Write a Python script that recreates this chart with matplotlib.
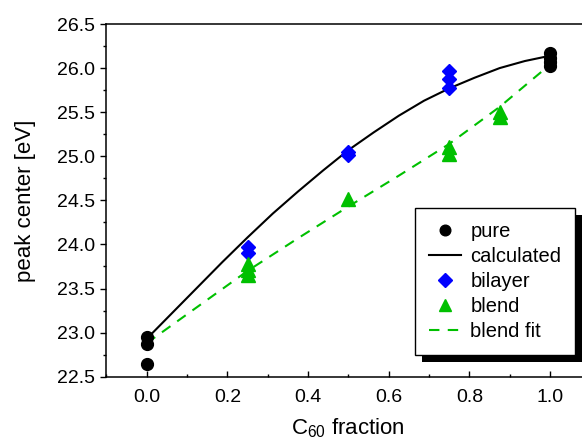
import matplotlib
matplotlib.use('Agg')
import matplotlib.pyplot as plt
from matplotlib.patches import Rectangle
from matplotlib.transforms import IdentityTransform
from matplotlib.ticker import MultipleLocator

plt.rcParams['font.family'] = ['Liberation Sans', 'DejaVu Sans']
plt.rcParams['mathtext.default'] = 'regular'

# pure materials (x = 0 and x = 1)
pure_x = [0.0, 0.0, 0.0, 1.0, 1.0, 1.0, 1.0]
pure_y = [22.95, 22.87, 22.64, 26.17, 26.12, 26.07, 26.02]

# calculated curve
calc_x = [0, 0.0625, 0.125, 0.1875, 0.25, 0.3125, 0.375, 0.4375, 0.5,
          0.5625, 0.625, 0.6875, 0.75, 0.8125, 0.875, 0.9375, 1.0]
calc_y = [22.93, 23.22, 23.51, 23.80, 24.08, 24.35, 24.60, 24.84, 25.07,
          25.27, 25.46, 25.63, 25.77, 25.89, 26.00, 26.08, 26.14]

# bilayer samples
bil_x = [0.25, 0.25, 0.5, 0.5, 0.75, 0.75, 0.75]
bil_y = [23.97, 23.90, 25.05, 25.01, 25.97, 25.88, 25.77]

# blend samples
bl_x = [0.25, 0.25, 0.25, 0.5, 0.75, 0.75, 0.875, 0.875]
bl_y = [23.78, 23.71, 23.65, 24.51, 25.10, 25.03, 25.50, 25.44]

# blend fit
fit_x = [0, 0.125, 0.25, 0.375, 0.5, 0.625, 0.75, 0.875, 1.0]
fit_y = [22.88, 23.29, 23.70, 24.07, 24.43, 24.78, 25.14, 25.56, 26.04]

green = '#00C000'

fig = plt.figure(figsize=(5.82, 4.43), dpi=100)
ax = fig.add_axes([106.4 / 582, 66.3 / 443, 484 / 582, 352.7 / 443])

l_calc, = ax.plot(calc_x, calc_y, color='black', linewidth=1.5, label='calculated', zorder=2)
l_fit, = ax.plot(fit_x, fit_y, color=green, linewidth=1.5, linestyle=(0, (5, 4)),
                 label='blend fit', zorder=2)
l_bil, = ax.plot(bil_x, bil_y, linestyle='none', marker='D', markersize=7.5,
                 color='#0000FF', label='bilayer', zorder=3)
l_bl, = ax.plot(bl_x, bl_y, linestyle='none', marker='^', markersize=9.5,
                color=green, label='blend', zorder=3)
l_pure, = ax.plot(pure_x, pure_y, linestyle='none', marker='o', markersize=8.5,
                  color='black', label='pure', zorder=4)

ax.set_xlim(-0.1, 1.1)
ax.set_ylim(22.5, 26.5)
ax.xaxis.set_major_locator(MultipleLocator(0.2))
ax.xaxis.set_minor_locator(MultipleLocator(0.1))
ax.yaxis.set_major_locator(MultipleLocator(0.5))
ax.yaxis.set_minor_locator(MultipleLocator(0.25))
ax.xaxis.set_major_formatter(plt.FormatStrFormatter('%.1f'))
ax.yaxis.set_major_formatter(plt.FormatStrFormatter('%.1f'))

ax.tick_params(axis='x', which='major', direction='in', length=4.3, width=1, labelsize=14, pad=9)
ax.tick_params(axis='x', which='minor', direction='in', length=2.4, width=1)
ax.tick_params(axis='y', which='major', direction='out', length=4.3, width=1, labelsize=14, pad=4)
ax.tick_params(axis='y', which='minor', direction='out', length=2.2, width=1)
for s in ax.spines.values():
    s.set_linewidth(1.1)

ax.set_xlabel('C$_{60}$ fraction', fontsize=16, labelpad=7.5)
ax.set_ylabel('peak center [eV]', fontsize=16, labelpad=15)

leg = ax.legend(handles=[l_pure, l_calc, l_bil, l_bl, l_fit],
                loc='upper left', bbox_to_anchor=(415 / 582, 1 - 208 / 443),
                bbox_transform=fig.transFigure, borderaxespad=0,
                fontsize=14.5, fancybox=False, framealpha=1, edgecolor='black',
                handlelength=1.6, handletextpad=0.45, labelspacing=0.3,
                borderpad=0.7, markerscale=0.9)
leg.get_frame().set_linewidth(1.0)
leg.set_zorder(6)

# offset black shadow behind the legend box
fig.canvas.draw()
bb = leg.get_window_extent()
ax.add_patch(Rectangle((bb.x0 + 6.5, bb.y0 - 6.5), bb.width, bb.height,
                       transform=IdentityTransform(), facecolor='black',
                       edgecolor='none', zorder=5, clip_on=False))

fig.savefig('out.png', dpi=100)
